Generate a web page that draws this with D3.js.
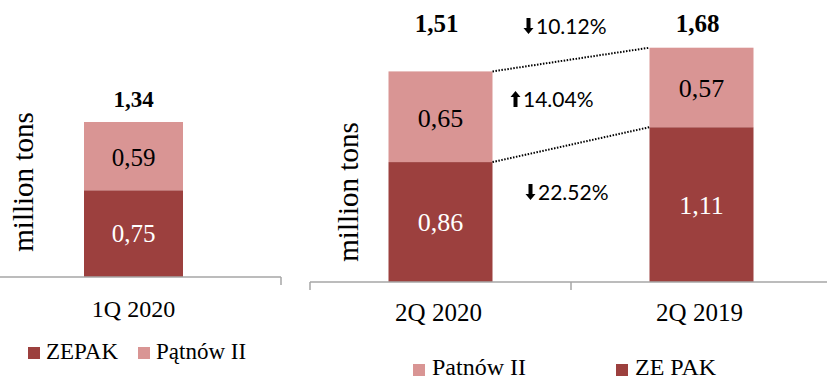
<!DOCTYPE html>
<html><head><meta charset="utf-8">
<script src="https://cdn.jsdelivr.net/npm/d3@7"></script>
<style>
html,body{margin:0;padding:0;background:#fff;}
svg{display:block;}
</style></head>
<body>
<svg id="c" width="827" height="379"></svg>
<script>
// ---- data ----
const leftCategories = ["1Q 2020"];
const leftZepak = [0.75];
const leftPatnow = [0.59];
const leftTotals = ["1,34"];
const leftZepakLabels = ["0,75"];
const leftPatnowLabels = ["0,59"];
const leftLegend = ["ZEPAK", "Pątnów II"];

const rightCategories = ["2Q 2020", "2Q 2019"];
const rightZepak = [0.86, 1.11];
const rightPatnow = [0.65, 0.57];
const rightTotals = ["1,51", "1,68"];
const rightZepakLabels = ["0,86", "1,11"];
const rightPatnowLabels = ["0,65", "0,57"];
const rightLegend = ["Patnów II", "ZE PAK"];

const changes = [
  {dir: "down", text: "10.12%"},
  {dir: "up", text: "14.04%"},
  {dir: "down", text: "22.52%"}
];

const DARK = "#9c403e", PINK = "#d99594", AXIS = "#a6a6a6";
const SERIF = "'Liberation Serif', 'Times New Roman', serif";
const SANS = "Lato, 'Liberation Sans', sans-serif";

const svg = d3.select("#c");

function axisLine(g, x0, x1, y, ticks) {
  g.append("line").attr("x1", x0).attr("x2", x1).attr("y1", y).attr("y2", y)
    .attr("stroke", AXIS).attr("stroke-width", 1.5);
  ticks.forEach(t => g.append("line").attr("x1", t).attr("x2", t).attr("y1", y).attr("y2", y + 8)
    .attr("stroke", AXIS).attr("stroke-width", 1.5));
}

// ---- LEFT CHART ----
{
  const g = svg.append("g");
  const x = d3.scaleBand().domain(leftCategories).range([-14, 281]).padding(0);
  const y = d3.scaleLinear().domain([0, 1.34]).range([277, 122]);
  const bw = 99;
  leftCategories.forEach((c, i) => {
    const cx = x(c) + x.bandwidth() / 2, x0 = cx - bw / 2, w = bw;
    g.append("rect").attr("x", x0).attr("width", w).attr("y", y(leftZepak[i])).attr("height", y(0) - y(leftZepak[i])).attr("fill", DARK);
    g.append("rect").attr("x", x0).attr("width", w).attr("y", y(leftZepak[i] + leftPatnow[i])).attr("height", y(leftZepak[i]) - y(leftZepak[i] + leftPatnow[i])).attr("fill", PINK);
    g.append("text").attr("x", cx).attr("y", (y(0) + y(leftZepak[i])) / 2 + 8).attr("text-anchor", "middle")
      .attr("font-family", SERIF).attr("font-size", 25).attr("fill", "#fff").text(leftZepakLabels[i]);
    g.append("text").attr("x", cx).attr("y", (y(leftZepak[i]) + y(leftZepak[i] + leftPatnow[i])) / 2 + 10).attr("text-anchor", "middle")
      .attr("font-family", SERIF).attr("font-size", 25).attr("fill", "#000").text(leftPatnowLabels[i]);
    g.append("text").attr("x", cx).attr("y", 107).attr("text-anchor", "middle")
      .attr("font-family", SERIF).attr("font-weight", "bold").attr("font-size", 23).attr("fill", "#000").text(leftTotals[i]);
    g.append("text").attr("x", cx).attr("y", 317).attr("text-anchor", "middle")
      .attr("font-family", SERIF).attr("font-size", 24).attr("fill", "#000").text(c);
  });
  axisLine(g, 0, 281, y(0), [281]);
  g.append("text").attr("transform", "translate(33,182) rotate(-90)").attr("text-anchor", "middle")
    .attr("font-family", SERIF).attr("font-size", 29).attr("fill", "#000").text("million tons");
  // legend
  const lx = [28, 138], lc = [DARK, PINK];
  leftLegend.forEach((t, i) => {
    g.append("rect").attr("x", lx[i]).attr("y", 347).attr("width", 12).attr("height", 12).attr("fill", lc[i]);
    g.append("text").attr("x", lx[i] + 18).attr("y", 359).attr("font-family", SERIF).attr("font-size", 23).attr("fill", "#000").text(t);
  });
}

// ---- RIGHT CHART ----
{
  const g = svg.append("g");
  const x = d3.scaleBand().domain(rightCategories).range([310, 832]).padding(0);
  const y = d3.scaleLinear().domain([0, 1.68]).range([282, 47.7]);
  const bw = 104;
  const bars = [];
  rightCategories.forEach((c, i) => {
    const cx = x(c) + x.bandwidth() / 2, x0 = cx - bw / 2;
    const top = rightZepak[i] + rightPatnow[i];
    bars.push({x0, x1: x0 + bw, mid: y(rightZepak[i]), top: y(top)});
    g.append("rect").attr("x", x0).attr("width", bw).attr("y", y(rightZepak[i])).attr("height", y(0) - y(rightZepak[i])).attr("fill", DARK);
    g.append("rect").attr("x", x0).attr("width", bw).attr("y", y(top)).attr("height", y(rightZepak[i]) - y(top)).attr("fill", PINK);
    g.append("text").attr("x", cx).attr("y", (y(0) + y(rightZepak[i])) / 2 + 9).attr("text-anchor", "middle")
      .attr("font-family", SERIF).attr("font-size", 26).attr("fill", "#fff").text(rightZepakLabels[i]);
    g.append("text").attr("x", cx).attr("y", (y(rightZepak[i]) + y(top)) / 2 + 10).attr("text-anchor", "middle")
      .attr("font-family", SERIF).attr("font-size", 26).attr("fill", "#000").text(rightPatnowLabels[i]);
    g.append("text").attr("x", cx - 4).attr("y", 32).attr("text-anchor", "middle")
      .attr("font-family", SERIF).attr("font-weight", "bold").attr("font-size", 25).attr("fill", "#000").text(rightTotals[i]);
    g.append("text").attr("x", cx - 2).attr("y", 321).attr("text-anchor", "middle")
      .attr("font-family", SERIF).attr("font-size", 25).attr("fill", "#000").text(c);
  });
  // dotted connectors
  ["top", "mid"].forEach(k => {
    g.append("line").attr("x1", bars[0].x1).attr("y1", bars[0][k]).attr("x2", bars[1].x0).attr("y2", bars[1][k])
      .attr("stroke", "#000").attr("stroke-width", 2).attr("stroke-dasharray", "1.5,1.5");
  });
  axisLine(g, 310, 827, y(0), [310, x(rightCategories[1])]);
  g.append("text").attr("transform", "translate(358,192) rotate(-90)").attr("text-anchor", "middle")
    .attr("font-family", SERIF).attr("font-size", 29).attr("fill", "#000").text("million tons");
  // change annotations
  const cy = [34, 107, 200], ax = [524, 511, 526], tx = [536, 523, 538];
  changes.forEach((d, i) => {
    const top = cy[i] - 16, bot = cy[i];
    const a = ax[i];
    let p;
    if (d.dir === "down") {
      p = `M${a+2.5},${top} h4 v10 h3 l-5,6 l-5,-6 h3 z`;
    } else {
      p = `M${a+2.5},${bot} h4 v-10 h3 l-5,-6 l-5,6 h3 z`;
    }
    g.append("path").attr("d", p).attr("fill", "#000");
    g.append("text").attr("x", tx[i]).attr("y", cy[i]).attr("font-family", SANS).attr("font-size", 21)
      .attr("fill", "#000").text(d.text);
  });
  // legend
  const lx = [413, 616], lc = [PINK, DARK];
  rightLegend.forEach((t, i) => {
    g.append("rect").attr("x", lx[i]).attr("y", 364).attr("width", 12).attr("height", 12).attr("fill", lc[i]);
    g.append("text").attr("x", lx[i] + 19).attr("y", 375).attr("font-family", SERIF).attr("font-size", 24).attr("fill", "#000").text(t);
  });
}
</script>
</body></html>
